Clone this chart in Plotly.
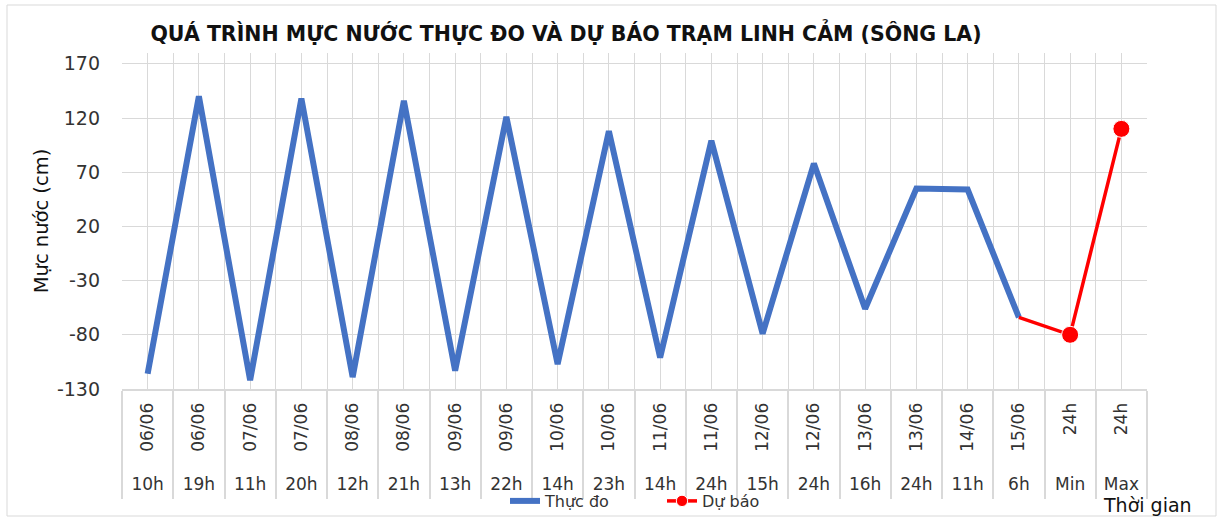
import plotly.graph_objects as go

# ---- data ----
dates = ["06/06", "06/06", "07/06", "07/06", "08/06", "08/06", "09/06", "09/06",
         "10/06", "10/06", "11/06", "11/06", "12/06", "12/06", "13/06", "13/06",
         "14/06", "15/06", "24h", "24h"]
hours = ["10h", "19h", "11h", "20h", "12h", "21h", "13h", "22h", "14h", "23h",
         "14h", "24h", "15h", "24h", "16h", "24h", "11h", "6h", "Min", "Max"]
thuc_do = [-116, 140, -122, 138, -119, 136, -113, 121, -107, 108,
           -101, 99, -79, 78, -56, 55, 54, -64]
du_bao = [-64, -80, 110]
du_bao_start = 17
y_ticks = [-130, -80, -30, 20, 70, 120, 170]
y_tick_labels = ["-130", "-80", "-30", "20", "70", "120", "170"]

idx = list(range(len(dates)))

FONT = "DejaVu Sans"
TXT = "#333333"
GRID = "#D9D9D9"

fig = go.Figure()
fig.add_trace(go.Scatter(
    x=idx[:len(thuc_do)], y=thuc_do, name="Thực đo", mode="lines",
    line=dict(color="#4472C4", width=6), xaxis="x", yaxis="y"))
fig.add_trace(go.Scatter(
    x=idx[du_bao_start:du_bao_start + len(du_bao)], y=du_bao, name="Dự báo",
    mode="lines+markers", line=dict(color="#FF0000", width=3.5),
    marker=dict(color="#FF0000", size=[0, 17, 17], opacity=1), xaxis="x2", yaxis="y"))

L, R, T, B = 122, 70, 53, 47
W, H = 1217, 517
pw, ph = W - L - R, H - T - B
ybot = 389
dom0 = (H - B - ybot) / ph

def py(pix):
    return (H - B - pix) / ph

def px(pix):
    return (pix - L) / pw

fig.update_layout(
    width=W, height=H,
    margin=dict(l=L, r=R, t=T, b=B, autoexpand=False),
    paper_bgcolor="white", plot_bgcolor="white",
    font=dict(family=FONT, color=TXT),
    title=dict(text="<b>QUÁ TRÌNH MỰC NƯỚC THỰC ĐO VÀ DỰ BÁO TRẠM LINH CẢM (SÔNG LA)</b>",
               xref="container", x=566 / W, xanchor="center",
               yref="container", y=1 - 34 / H, yanchor="middle",
               font=dict(family=FONT, size=20.5, color="#111")),
    xaxis=dict(
        range=[-0.5, len(dates) - 0.5], tickmode="array", tickvals=idx, ticktext=dates,
        tickangle=-90, tickfont=dict(size=17, color=TXT), ticklabelstandoff=5,
        showgrid=True, gridcolor=GRID, gridwidth=1, zeroline=False,
        showline=True, linecolor=GRID, linewidth=2, ticks="",
        minor=dict(tickmode="linear", tick0=-0.5, dtick=1, showgrid=True, gridcolor=GRID,
                   gridwidth=1, ticks="outside", ticklen=108, tickcolor=GRID, tickwidth=2),
        anchor="y", fixedrange=True),
    xaxis2=dict(
        range=[-0.5, len(dates) - 0.5], tickmode="array", tickvals=idx, ticktext=hours,
        tickangle=0, tickfont=dict(size=17, color=TXT), overlaying="x", anchor="free",
        position=0, showgrid=False, zeroline=False, showline=False, ticks="",
        ticklabelstandoff=2, fixedrange=True),
    yaxis=dict(
        domain=[dom0, 1], range=[-130, 180], tickmode="array", tickvals=y_ticks,
        ticktext=y_tick_labels,
        tickfont=dict(size=19, color=TXT), showgrid=True, gridcolor=GRID, gridwidth=1,
        zeroline=False, showline=False, ticks="", ticklabelstandoff=21,
        title=dict(text="Mực nước (cm)", font=dict(size=19.5, color="#111"), standoff=3),
        fixedrange=True),
    legend=dict(orientation="h", x=px(662), xanchor="center", y=py(501), yanchor="middle",
                font=dict(size=16, color=TXT), bgcolor="rgba(0,0,0,0)",
                entrywidth=112, entrywidthmode="pixels"),
    showlegend=True,
)

fig.add_annotation(text="Thời gian", xref="x", x=len(dates) - 0.5, xanchor="center",
                   yref="paper", y=py(505), yanchor="middle", showarrow=False,
                   font=dict(size=19, color="#111"))

fig.add_shape(type="rect", xref="paper", yref="paper",
              x0=px(7), x1=px(1216), y0=py(516), y1=py(5),
              line=dict(color=GRID, width=1), fillcolor="rgba(0,0,0,0)", layer="below")

fig.write_html("out.html", config={"displayModeBar": False},
               post_script="document.body.style.margin='0';")
